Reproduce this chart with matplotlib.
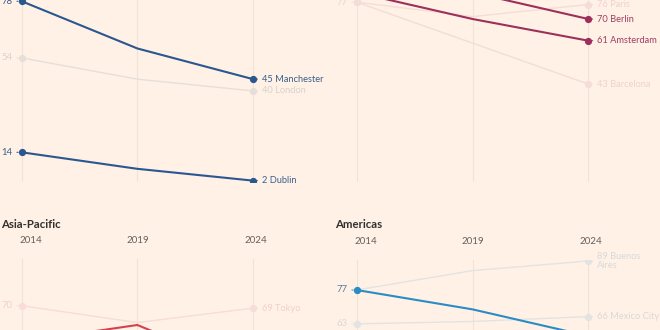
import matplotlib
matplotlib.use("Agg")
import matplotlib.pyplot as plt

# ── Datos ────────────────────────────────────────────────────────────────────

years = [2014, 2019, 2024]

# arriba izquierda
manchester = [78, 58, 45]
london = [54, 45, 40]
dublin = [14, 7, 2]

# arriba derecha
berlin = [86, 81, 70]
amsterdam = [81, 70, 61]
paris = [77, 71, 76]
barcelona = [77, 60, 43]

# Asia-Pacific
tokyo = [70, 63, 69]
asia_main = [55, 62, 42]

# Americas
buenos_aires = [77, 85, 89]
mexico_city = [63, 64, 66]
americas_main = [77, 69, 58]

BG = "#FFF1E5"
GRID = "#efe3d9"
TXT = "#33302e"
YEAR_TXT = "#66605c"

plt.rcParams["font.family"] = ["Lato", "DejaVu Sans"]

W, H = 660, 330
fig = plt.figure(figsize=(W / 100, H / 100), dpi=100, facecolor=BG)


def make_panel(left, top, bottom, x0, x1, v_ref, y_ref, scale):
    """Axes placed in pixel terms: year 2014 at x0, 2024 at x1, value v_ref at y_ref."""
    ax = fig.add_axes([left / W, 1 - bottom / H, 330 / W, (bottom - top) / H])
    k = 10 / (x1 - x0)
    ax.set_xlim(2014 - (x0 - left) * k, 2014 + (left + 330 - x0) * k)
    ax.set_ylim(v_ref - (bottom - y_ref) / scale, v_ref + (y_ref - top) / scale)
    ax.patch.set_alpha(0)
    for s in ax.spines.values():
        s.set_visible(False)
    ax.set_xticks([])
    ax.set_yticks([])
    for yr in years:
        ax.axvline(yr, color=GRID, lw=0.8, zorder=0)
    return ax


def draw(ax, series):
    # series: (valores, nombre, color, texto, destacado)
    done = set()
    for vals, name, col, tcol, main in sorted(series, key=lambda s: not s[4]):
        z = 4 if main else 2
        ax.plot(years, vals, color=col, lw=1.5 if main else 1.0, marker="o",
                ms=4.2, markevery=[0, 2], zorder=z, solid_joinstyle="round")
        if vals[0] not in done:
            done.add(vals[0])
            ax.annotate(f"{vals[0]}", xy=(years[0], vals[0]), xytext=(-6.5, 0),
                        textcoords="offset points", ha="right", va="center",
                        fontsize=6.8, color=tcol, zorder=z,
                        arrowprops=dict(arrowstyle="-", color=col, lw=0.7,
                                        shrinkA=1, shrinkB=2.5))
        if name:
            ax.annotate(f"{vals[2]} {name}", xy=(years[2], vals[2]), xytext=(6.2, 0),
                        textcoords="offset points", ha="left", va="center",
                        fontsize=6.7, color=tcol, zorder=z, linespacing=1.0,
                        arrowprops=dict(arrowstyle="-", color=col, lw=0.7,
                                        shrinkA=1, shrinkB=2.5))


def year_labels(ax):
    offs = {2014: (-1.5, "left"), 2019: (0.5, "center"), 2024: (2, "center")}
    for yr in years:
        dx, ha = offs[yr]
        ax.annotate(str(yr), xy=(yr, 1), xycoords=("data", "axes fraction"),
                    xytext=(dx, 13), textcoords="offset points", ha=ha,
                    va="center", fontsize=7, color=YEAR_TXT,
                    annotation_clip=False)


# ── Paneles ──────────────────────────────────────────────────────────────────

ax_tl = make_panel(0, -60, 182, 21.7, 253, 14, 152.3, 2.36)
draw(ax_tl, [
    (manchester, "Manchester", "#2b5790", "#3b5f8c", True),
    (dublin, "Dublin", "#2b5790", "#3b5f8c", True),
    (london, "London", "#e6dfd9", "#d8d2cd", False),
])

ax_tr = make_panel(330, -60, 182, 356.7, 588.3, 70, 19, 2.41)
draw(ax_tr, [
    (berlin, "Berlin", "#9e2f5a", "#a03d63", True),
    (amsterdam, "Amsterdam", "#9e2f5a", "#a03d63", True),
    (paris, "Paris", "#f4ddd7", "#efd2cc", False),
    (barcelona, "Barcelona", "#f4ddd7", "#efd2cc", False),
])

ax_bl = make_panel(0, 259, 600, 21.7, 253, 70, 305.7, 2.41)
draw(ax_bl, [
    (asia_main, None, "#d8404f", "#d8404f", True),
    (tokyo, "Tokyo", "#f7dcd8", "#f3cfcb", False),
])
year_labels(ax_bl)

ax_br = make_panel(330, 260, 600, 356.7, 588.3, 77, 290, 2.42)
draw(ax_br, [
    (americas_main, None, "#2a8cc4", "#5b7d9a", True),
    (buenos_aires, "Buenos\nAires", "#e3e3e3", "#d9d9d9", False),
    (mexico_city, "Mexico City", "#e3e3e3", "#d9d9d9", False),
])
year_labels(ax_br)

fig.text(1 / W, 1 - 225 / H, "Asia-Pacific", ha="left", va="center",
         fontsize=8.2, fontweight="bold", color=TXT)
fig.text(335 / W, 1 - 225 / H, "Americas", ha="left", va="center",
         fontsize=8.2, fontweight="bold", color=TXT)

fig.savefig("out.png", dpi=100, facecolor=BG)
plt.close(fig)
